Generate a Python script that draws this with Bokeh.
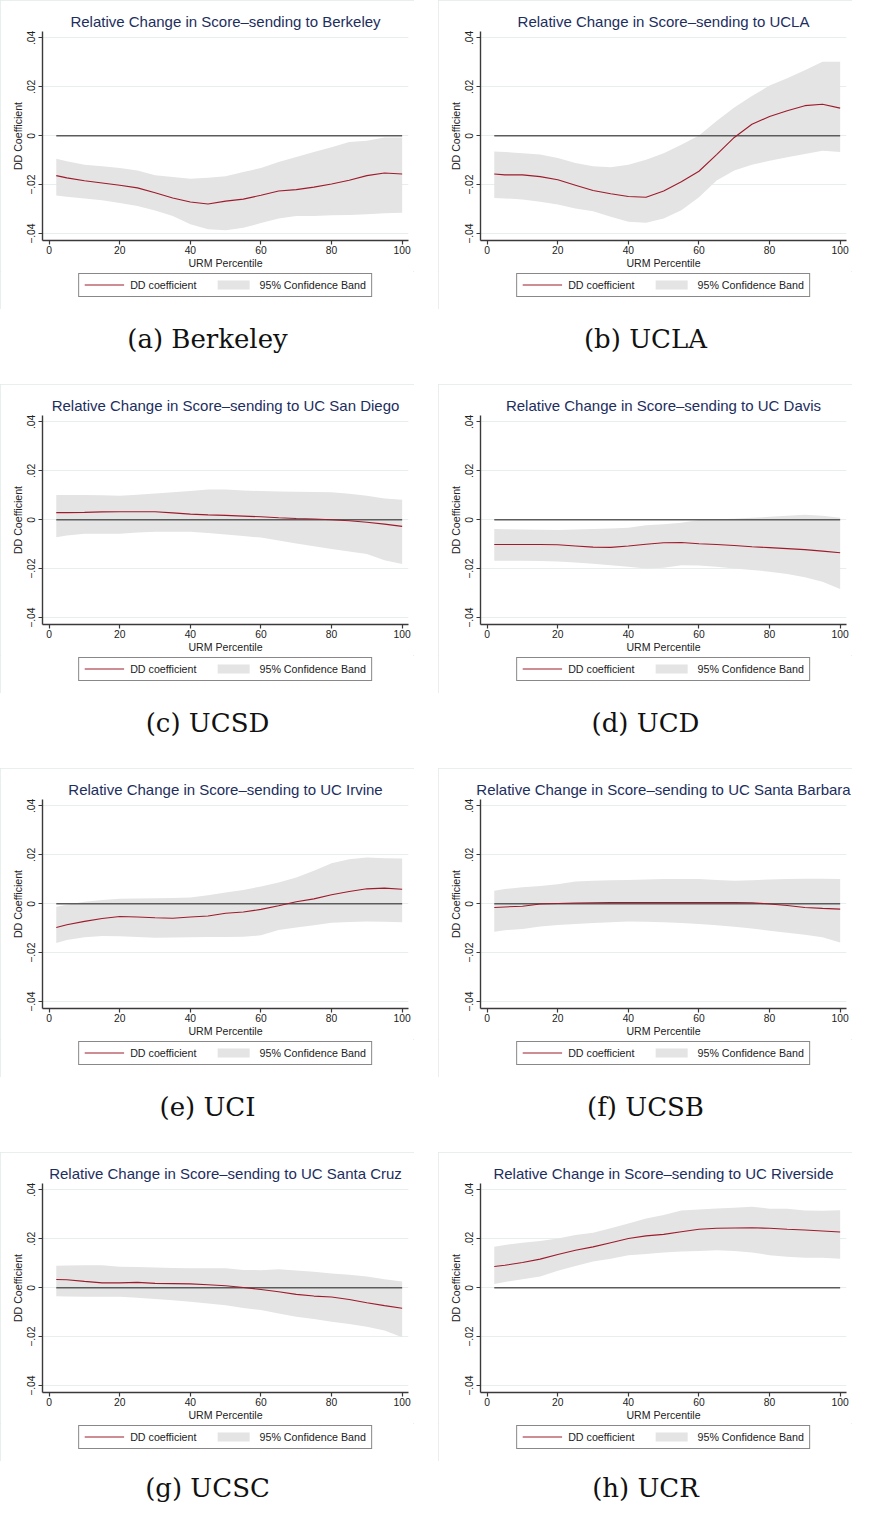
from bokeh.plotting import figure
from bokeh.layouts import column, row
from bokeh.models import FixedTicker, CustomJSTickFormatter, Legend, LegendItem, Label
from bokeh.embed import file_html
from bokeh.resources import INLINE

# ---------------- data ----------------
X = [2, 5, 10, 15, 20, 25, 30, 35, 40, 45, 50, 55, 60, 65, 70, 75, 80, 85, 90, 95, 100]
ZERO = [0.0] * len(X)

berkeley_coef = [-0.0163, -0.0172, -0.0184, -0.0193, -0.0202, -0.0213, -0.0233, -0.0254, -0.0271, -0.0279, -0.0267,
                 -0.0259, -0.0243, -0.0226, -0.0220, -0.0210, -0.0197, -0.0182, -0.0163, -0.0152, -0.0156]
berkeley_hi = [-0.0094, -0.0104, -0.0118, -0.0125, -0.0132, -0.0142, -0.0161, -0.0169, -0.0176, -0.0172, -0.0165,
               -0.0148, -0.0132, -0.0107, -0.0087, -0.0066, -0.0047, -0.0026, -0.0020, -0.0007, -0.0007]
berkeley_lo = [-0.0244, -0.0249, -0.0256, -0.0264, -0.0275, -0.0287, -0.0305, -0.0328, -0.0362, -0.0382, -0.0386,
               -0.0376, -0.0357, -0.0338, -0.0328, -0.0328, -0.0325, -0.0324, -0.0321, -0.0317, -0.0315]

ucla_coef = [-0.0156, -0.0160, -0.0160, -0.0167, -0.0180, -0.0202, -0.0224, -0.0237, -0.0248, -0.0251, -0.0226,
             -0.0188, -0.0145, -0.0077, -0.0007, 0.0047, 0.0079, 0.0102, 0.0123, 0.0129, 0.0113]
ucla_hi = [-0.0064, -0.0066, -0.0071, -0.0077, -0.0091, -0.0111, -0.0125, -0.0129, -0.0118, -0.0098, -0.0071,
           -0.0037, 0.0001, 0.0060, 0.0115, 0.0162, 0.0205, 0.0235, 0.0268, 0.0302, 0.0302]
ucla_lo = [-0.0254, -0.0256, -0.0260, -0.0270, -0.0281, -0.0297, -0.0308, -0.0331, -0.0351, -0.0355, -0.0338,
           -0.0304, -0.0251, -0.0183, -0.0142, -0.0118, -0.0102, -0.0088, -0.0075, -0.0061, -0.0066]

ucsd_coef = [0.0029, 0.0029, 0.0030, 0.0032, 0.0033, 0.0033, 0.0033, 0.0028, 0.0023, 0.0020, 0.0018,
             0.0015, 0.0012, 0.0008, 0.0005, 0.0003, 0.0000, -0.0004, -0.0010, -0.0018, -0.0027]
ucsd_hi = [0.0101, 0.0101, 0.0101, 0.0100, 0.0098, 0.0102, 0.0107, 0.0112, 0.0117, 0.0124, 0.0124,
           0.0120, 0.0117, 0.0115, 0.0114, 0.0113, 0.0112, 0.0106, 0.0098, 0.0087, 0.0082]
ucsd_lo = [-0.0071, -0.0064, -0.0057, -0.0057, -0.0057, -0.0052, -0.0049, -0.0049, -0.0049, -0.0054, -0.0060,
           -0.0066, -0.0073, -0.0085, -0.0097, -0.0108, -0.0120, -0.0130, -0.0140, -0.0165, -0.0181]

ucd_coef = [-0.0101, -0.0101, -0.0101, -0.0101, -0.0102, -0.0107, -0.0112, -0.0113, -0.0107, -0.0100, -0.0094,
            -0.0093, -0.0098, -0.0101, -0.0105, -0.0110, -0.0114, -0.0118, -0.0122, -0.0128, -0.0135]
ucd_hi = [-0.0038, -0.0039, -0.0040, -0.0041, -0.0042, -0.0040, -0.0038, -0.0036, -0.0033, -0.0022, -0.0018,
          -0.0012, -0.0001, 0.0002, 0.0004, 0.0008, 0.0012, 0.0016, 0.0020, 0.0016, 0.0008]
ucd_lo = [-0.0167, -0.0167, -0.0168, -0.0169, -0.0171, -0.0175, -0.0180, -0.0186, -0.0192, -0.0199, -0.0196,
          -0.0186, -0.0187, -0.0192, -0.0199, -0.0205, -0.0212, -0.0222, -0.0235, -0.0253, -0.0283]

uci_coef = [-0.0097, -0.0086, -0.0072, -0.0060, -0.0052, -0.0054, -0.0057, -0.0059, -0.0054, -0.0050, -0.0039,
            -0.0034, -0.0023, -0.0008, 0.0008, 0.0020, 0.0037, 0.0050, 0.0061, 0.0064, 0.0059]
uci_hi = [-0.0012, -0.0004, 0.0008, 0.0015, 0.0020, 0.0021, 0.0022, 0.0024, 0.0026, 0.0035, 0.0046,
          0.0056, 0.0071, 0.0087, 0.0107, 0.0135, 0.0165, 0.0182, 0.0189, 0.0186, 0.0185]
uci_lo = [-0.0160, -0.0148, -0.0137, -0.0132, -0.0133, -0.0136, -0.0139, -0.0138, -0.0137, -0.0136, -0.0136,
          -0.0135, -0.0129, -0.0107, -0.0097, -0.0088, -0.0078, -0.0075, -0.0073, -0.0074, -0.0076]

ucsb_coef = [-0.0015, -0.0013, -0.0010, -0.0001, 0.0001, 0.0003, 0.0004, 0.0005, 0.0005, 0.0005, 0.0005,
             0.0005, 0.0005, 0.0005, 0.0005, 0.0004, -0.0001, -0.0007, -0.0015, -0.0019, -0.0022]
ucsb_hi = [0.0053, 0.0060, 0.0067, 0.0073, 0.0080, 0.0091, 0.0094, 0.0096, 0.0097, 0.0099, 0.0101,
           0.0101, 0.0101, 0.0097, 0.0094, 0.0096, 0.0099, 0.0101, 0.0102, 0.0102, 0.0101]
ucsb_lo = [-0.0114, -0.0108, -0.0103, -0.0093, -0.0087, -0.0083, -0.0079, -0.0076, -0.0073, -0.0074, -0.0076,
           -0.0079, -0.0083, -0.0088, -0.0094, -0.0101, -0.0110, -0.0118, -0.0127, -0.0137, -0.0158]

ucsc_coef = [0.0034, 0.0033, 0.0026, 0.0020, 0.0020, 0.0022, 0.0018, 0.0017, 0.0016, 0.0012, 0.0008,
             0.0001, -0.0007, -0.0016, -0.0027, -0.0034, -0.0038, -0.0048, -0.0061, -0.0073, -0.0084]
ucsc_hi = [0.0090, 0.0091, 0.0092, 0.0092, 0.0086, 0.0085, 0.0083, 0.0081, 0.0080, 0.0080, 0.0080,
           0.0073, 0.0072, 0.0076, 0.0071, 0.0065, 0.0058, 0.0053, 0.0046, 0.0035, 0.0026]
ucsc_lo = [-0.0035, -0.0036, -0.0037, -0.0037, -0.0037, -0.0041, -0.0046, -0.0051, -0.0057, -0.0064, -0.0071,
           -0.0083, -0.0091, -0.0105, -0.0118, -0.0128, -0.0139, -0.0148, -0.0159, -0.0175, -0.0202]

ucr_coef = [0.0087, 0.0092, 0.0103, 0.0117, 0.0136, 0.0153, 0.0167, 0.0184, 0.0201, 0.0212, 0.0218,
            0.0229, 0.0239, 0.0243, 0.0244, 0.0245, 0.0243, 0.0239, 0.0236, 0.0232, 0.0228]
ucr_hi = [0.0168, 0.0175, 0.0184, 0.0191, 0.0201, 0.0216, 0.0225, 0.0243, 0.0263, 0.0283, 0.0297,
          0.0316, 0.0320, 0.0324, 0.0327, 0.0331, 0.0323, 0.0323, 0.0316, 0.0315, 0.0317]
ucr_lo = [0.0015, 0.0024, 0.0035, 0.0046, 0.0069, 0.0089, 0.0107, 0.0119, 0.0133, 0.0138, 0.0144,
          0.0148, 0.0150, 0.0153, 0.0150, 0.0144, 0.0133, 0.0127, 0.0123, 0.0123, 0.0119]

TITLES = ["Berkeley", "UCLA", "UC San Diego", "UC Davis", "UC Irvine", "UC Santa Barbara",
          "UC Santa Cruz", "UC Riverside"]
CAPTIONS = ["(a) Berkeley", "(b) UCLA", "(c) UCSD", "(d) UCD", "(e) UCI", "(f) UCSB", "(g) UCSC", "(h) UCR"]
SERIES = [(berkeley_coef, berkeley_lo, berkeley_hi), (ucla_coef, ucla_lo, ucla_hi),
          (ucsd_coef, ucsd_lo, ucsd_hi), (ucd_coef, ucd_lo, ucd_hi),
          (uci_coef, uci_lo, uci_hi), (ucsb_coef, ucsb_lo, ucsb_hi),
          (ucsc_coef, ucsc_lo, ucsc_hi), (ucr_coef, ucr_lo, ucr_hi)]
LEGEND_LABELS = ["DD coefficient", "95% Confidence Band"]
X_TICKS = [0, 20, 40, 60, 80, 100]
Y_TICKS = [-0.04, -0.02, 0, 0.02, 0.04]

# ---------------- style ----------------
SANS = "Liberation Sans"
SERIF = "DejaVu Serif"
PW = 414          # panel width
PH = 271          # plot part of a panel
LH = 38           # legend strip of a panel
CAP_H = 75
GAP = 24
LINE_C = "#9e1b2c"
BAND_C = "#e4e4e4"
TITLE_C = "#1c2e5e"
AXIS_C = "#3a3a3a"
TEXT_C = "#222222"
X_RANGE = (-1.9, 101.8)
Y_RANGE = (-0.0428, 0.0426)


def plot_part(i):
    coef, lo, hi = SERIES[i]
    p = figure(width=PW, height=PH, x_range=X_RANGE, y_range=Y_RANGE,
               output_backend="svg", toolbar_location=None,
               min_border_left=42, min_border_right=6, min_border_top=31, min_border_bottom=31)
    p.outline_line_color = None
    p.title.text = "Relative Change in Score\u2013sending to " + TITLES[i]
    p.title.align = "center"
    p.title.text_font = SANS
    p.title.text_font_size = "15px"
    p.title.text_font_style = "normal"
    p.title.text_color = TITLE_C
    p.title.standoff = 4

    p.varea(x=X, y1=lo, y2=hi, fill_color=BAND_C)
    p.line(x=X, y=ZERO, line_color="#5c5c5c", line_width=1.6)
    p.line(x=X, y=coef, line_color=LINE_C, line_width=1.1)

    p.xgrid.visible = False
    p.ygrid.ticker = FixedTicker(ticks=Y_TICKS)
    p.ygrid.grid_line_color = "#e6eeee"
    p.ygrid.grid_line_width = 1

    xa = p.xaxis[0]
    xa.ticker = FixedTicker(ticks=X_TICKS)
    xa.axis_label = "URM Percentile"
    xa.major_label_standoff = 1
    xa.axis_label_standoff = 0
    ya = p.yaxis[0]
    ya.ticker = FixedTicker(ticks=Y_TICKS)
    ya.axis_label = "DD Coefficient"
    ya.formatter = CustomJSTickFormatter(code="""
        if (Math.abs(tick) < 1e-9) return "0";
        const s = Math.abs(tick).toFixed(2).replace(/^0/, "");
        return (tick < 0 ? "\u2212" : "") + s;
    """)
    ya.major_label_orientation = "parallel"
    ya.major_label_standoff = 3
    ya.axis_label_standoff = 1
    for ax in (xa, ya):
        ax.axis_line_color = AXIS_C
        ax.axis_line_width = 1.4
        ax.major_tick_line_color = AXIS_C
        ax.major_tick_line_width = 1.2
        ax.major_tick_out = 4
        ax.major_tick_in = 0
        ax.minor_tick_line_color = None
        ax.major_label_text_font = SANS
        ax.major_label_text_font_size = "10.3px"
        ax.major_label_text_color = TEXT_C
        ax.axis_label_text_font = SANS
        ax.axis_label_text_font_size = "10.6px"
        ax.axis_label_text_font_style = "normal"
        ax.axis_label_text_color = TEXT_C
    return p


def legend_part(i):
    # the legend strip keeps the panel's series, but its ranges show none of it;
    # only the legend swatches are visible here
    coef, lo, hi = SERIES[i]
    lp = figure(width=PW, height=LH, output_backend="svg", toolbar_location=None,
                x_axis_type=None, y_axis_type=None, x_range=(-300, -200), y_range=Y_RANGE,
                min_border_left=36, min_border_right=0, min_border_top=0, min_border_bottom=11)
    lp.outline_line_color = None
    lp.grid.visible = False
    ln = lp.line(x=X, y=coef, line_color=LINE_C, line_width=1.1)
    bd = lp.varea(x=X, y1=lo, y2=hi, fill_color=BAND_C)
    legend = Legend(items=[LegendItem(label=LEGEND_LABELS[0], renderers=[ln]),
                           LegendItem(label=LEGEND_LABELS[1], renderers=[bd])],
                    orientation="horizontal", location="center")
    legend.border_line_color = "#111111"
    legend.border_line_width = 1
    legend.background_fill_color = "white"
    legend.background_fill_alpha = 1
    legend.padding = 5
    legend.spacing = 17
    legend.margin = 0
    legend.glyph_width = 40
    legend.glyph_height = 11
    legend.label_height = 11
    legend.label_standoff = 6
    legend.label_text_font = SANS
    legend.label_text_font_size = "10.7px"
    legend.label_text_color = TEXT_C
    lp.add_layout(legend)
    return lp


def cell(i):
    return column(plot_part(i), legend_part(i), spacing=0,
                  styles={"outline": "1px solid #e2eaea", "outline-offset": "-1px"})


def caption(i, h, cy):
    c = figure(width=PW, height=h, output_backend="svg", toolbar_location=None,
               x_axis_type=None, y_axis_type=None, min_border=0,
               x_range=(0, 1), y_range=(0, 1))
    c.outline_line_color = None
    c.grid.visible = False
    c.add_layout(Label(x=PW / 2, y=h - cy, x_units="screen", y_units="screen",
                       text=CAPTIONS[i], text_align="center", text_baseline="middle",
                       text_font=SERIF, text_font_size="26px", text_color="#111111"))
    return c


rows = []
for r in range(4):
    a, b = 2 * r, 2 * r + 1
    rows.append(row(cell(a), cell(b), spacing=GAP))
    h = CAP_H if r < 3 else 42
    cy = 29 if r < 3 else 26
    rows.append(row(caption(a, h, cy), caption(b, h, cy), spacing=GAP))

layout = column(*rows, spacing=0)
open("out.html", "w").write(file_html(layout, INLINE))
